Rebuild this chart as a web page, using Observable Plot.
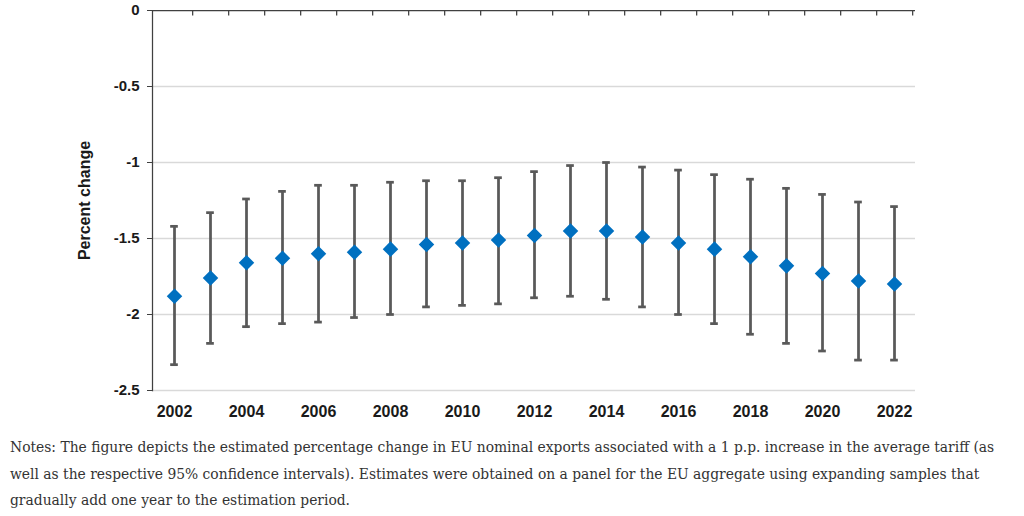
<!DOCTYPE html>
<html>
<head>
<meta charset="utf-8">
<script src="https://cdn.jsdelivr.net/npm/d3@7"></script>
<script src="https://cdn.jsdelivr.net/npm/@observablehq/plot@0.6"></script>
<style>
  body { margin: 0; background: #fff; }
  #notes {
    margin: 9px 0 0 10px;
    font-family: "DejaVu Serif", serif;
    font-stretch: condensed;
    font-size: 15px;
    line-height: 26.5px;
    color: #333;
    white-space: nowrap;
  }
</style>
</head>
<body>
<div id="chart"></div>
<div id="notes">
  <div><span>Notes: The figure depicts the estimated percentage change in EU nominal exports associated with a 1 p.p. increase in the average tariff (as</span></div>
  <div><span>well as the respective 95% confidence intervals). Estimates were obtained on a panel for the EU aggregate using expanding samples that</span></div>
  <div><span>gradually add one year to the estimation period.</span></div>
</div>
<script>
// Estimation end-year of each expanding sample
const years = [2002, 2003, 2004, 2005, 2006, 2007, 2008, 2009, 2010, 2011, 2012,
               2013, 2014, 2015, 2016, 2017, 2018, 2019, 2020, 2021, 2022];
// Point estimate (% change in exports per 1 p.p. tariff increase)
const estimate = [-1.88, -1.76, -1.66, -1.63, -1.60, -1.59, -1.57, -1.54, -1.53, -1.51, -1.48,
                  -1.45, -1.45, -1.49, -1.53, -1.57, -1.62, -1.68, -1.73, -1.78, -1.80];
// 95% confidence interval bounds
const upper = [-1.42, -1.33, -1.24, -1.19, -1.15, -1.15, -1.13, -1.12, -1.12, -1.10, -1.06,
               -1.02, -1.00, -1.03, -1.05, -1.08, -1.11, -1.17, -1.21, -1.26, -1.29];
const lower = [-2.33, -2.19, -2.08, -2.06, -2.05, -2.02, -2.00, -1.95, -1.94, -1.93, -1.89,
               -1.88, -1.90, -1.95, -2.00, -2.06, -2.13, -2.19, -2.24, -2.30, -2.30];
// Axis ticks
const yTicks = [0, -0.5, -1, -1.5, -2, -2.5];
const xTickLabels = [2002, 2004, 2006, 2008, 2010, 2012, 2014, 2016, 2018, 2020, 2022];

const rows = years.map((year, i) => ({year, estimate: estimate[i], lower: lower[i], upper: upper[i]}));

const width = 1024, marginLeft = 152, marginRight = 109;
const band = (width - marginLeft - marginRight) / years.length;

// short downward tick for the category boundaries along the zero line
const tickDown = {draw(ctx) { ctx.moveTo(0, 0); ctx.lineTo(0, 5); }};
const cap = {stroke: "#595959", strokeWidth: 2.75, insetLeft: (band - 8) / 2, insetRight: (band - 8) / 2};
const axisColor = "#404040";

const chart = Plot.plot({
  width, height: 425,
  marginTop: 10, marginBottom: 35, marginLeft, marginRight,
  style: {fontFamily: "'Liberation Sans', Arial, sans-serif", fontWeight: "bold", color: "#1a1a1a", background: "#fff"},
  x: {type: "band", domain: years, padding: 0},
  y: {domain: [-2.5, 0]},
  marks: [
    Plot.gridY(yTicks.filter(d => d !== 0), {stroke: "#d9d9d9", strokeOpacity: 1, strokeWidth: 1.5}),
    Plot.ruleY([0], {stroke: axisColor, strokeWidth: 1.25}),
    Plot.frame({anchor: "left", stroke: axisColor, strokeWidth: 1.25}),
    Plot.dot(years, {x: d => d, y: () => 0, symbol: tickDown, fill: "none", stroke: axisColor, strokeWidth: 1.25, dx: band / 2}),
    Plot.axisY({ticks: yTicks, tickFormat: d => String(d), tickSize: 5, tickPadding: 8, fontSize: 15,
                stroke: axisColor, label: null}),
    Plot.axisY({ticks: [], fontSize: 16, label: "Percent change", labelAnchor: "center", labelArrow: "none", labelOffset: 74}),
    Plot.axisX({ticks: xTickLabels, tickFormat: d => String(d), tickSize: 0, tickPadding: 15, fontSize: 16, label: null}),
    Plot.ruleX(rows, {x: "year", y1: "lower", y2: "upper", stroke: "#595959", strokeWidth: 2.75}),
    Plot.tickY(rows, {x: "year", y: "upper", ...cap}),
    Plot.tickY(rows, {x: "year", y: "lower", ...cap}),
    Plot.dot(rows, {x: "year", y: "estimate", symbol: "diamond2", r: 7, fill: "#0070c0", stroke: "none"})
  ]
});
document.getElementById("chart").append(chart);

// fit the note lines to the chart's full width
const notes = document.getElementById("notes");
const first = notes.querySelector("span");
const w = first.getBoundingClientRect().width;
notes.style.fontSize = (15 * 985 / w) + "px";
</script>
</body>
</html>
